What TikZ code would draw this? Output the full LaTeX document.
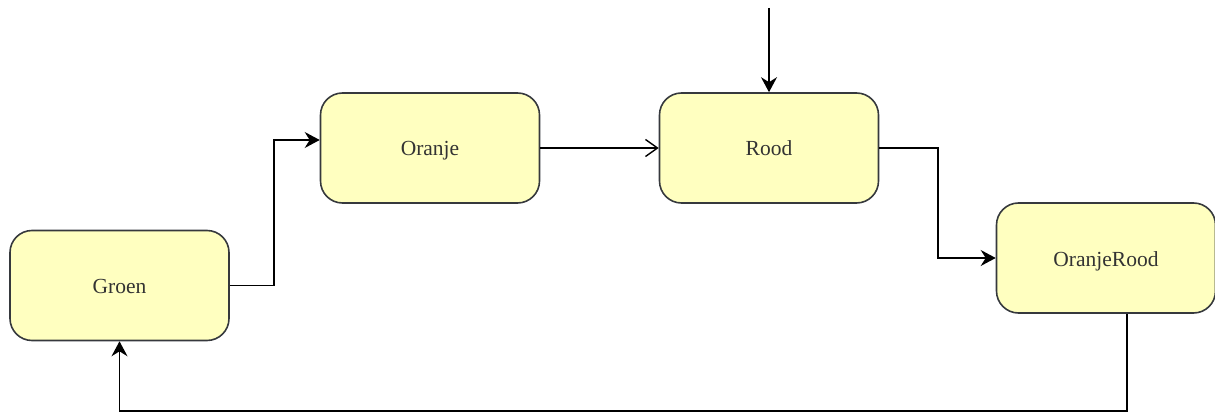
\documentclass[tikz,border=0pt]{standalone}
\usepackage{fontspec}
\setmainfont{Liberation Serif}
\usetikzlibrary{arrows.meta}
\definecolor{boxfill}{HTML}{FFFFC0}
\definecolor{boxline}{HTML}{36393D}
\tikzset{
  state/.style={draw=boxline, fill=boxfill, line width=1.6pt, rounded corners=22pt,
    minimum width=219pt, minimum height=110pt, inner sep=0pt,
    text height=17pt, text depth=1pt,
    font=\fontsize{21.5}{24}\selectfont, text=black!80},
  link/.style={draw=black, line width=1.6pt},
  filled/.style={link, -{Stealth[length=15pt, width=16pt, inset=5pt]}},
  openhead/.style={link, -{Straight Barb[length=12pt, width=17pt, line width=1.4pt]}}
}
\begin{document}
\begin{tikzpicture}[x=1pt, y=-1pt]
  \useasboundingbox (0,0) rectangle (1215,414);
  \node[state] (groen) at (119.5,285.5) {Groen};
  \node[state] (oranje) at (430,148) {Oranje};
  \node[state] (rood) at (769,148) {Rood};
  \node[state] (oranjerood) at (1106,258) {OranjeRood};
  \coordinate (entry) at (769,8);
  \coordinate (loop) at (1127,411);

  \draw[filled] (groen.east) -- (274,285.5) |- ([yshift=8pt]oranje.west);
  \draw[openhead] (oranje.east) -- (rood.west);
  \draw[filled] (entry) -- (rood.north);
  \draw[filled] (rood.east) -- (938,148) |- (oranjerood.west);
  \draw[filled] (oranjerood.south -| loop) -- (loop) -| (groen.south);
\end{tikzpicture}
\end{document}
